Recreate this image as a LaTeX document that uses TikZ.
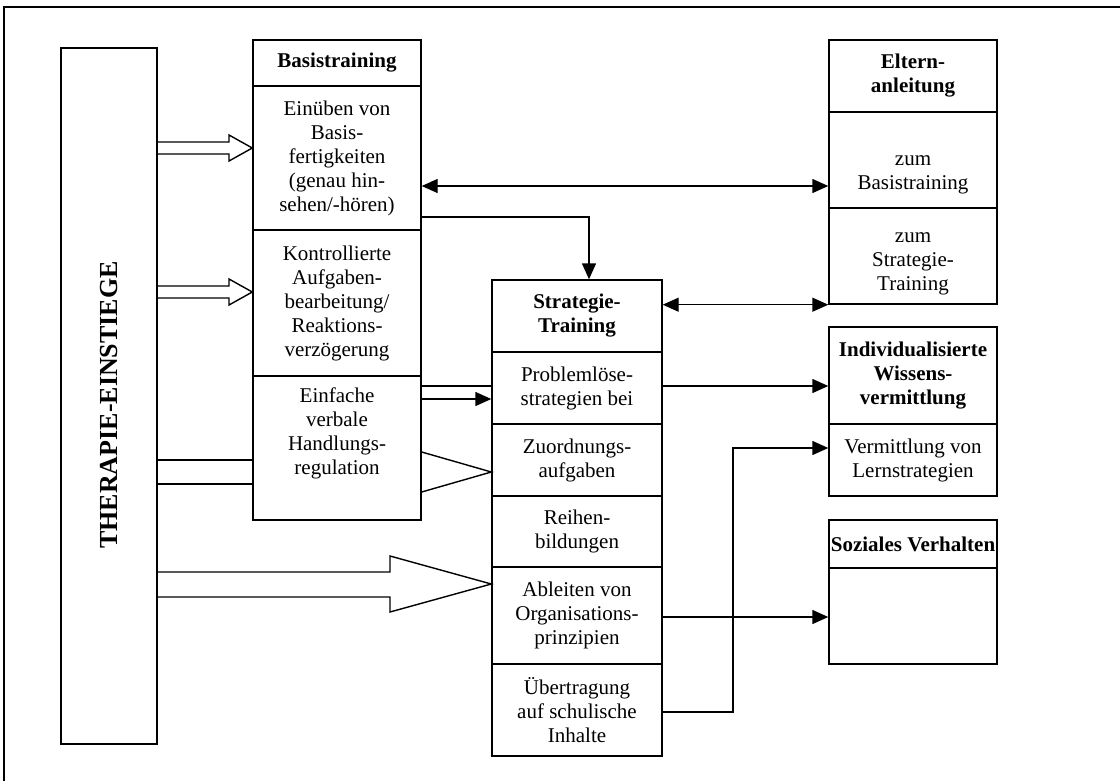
\documentclass[tikz,border=0pt]{standalone}
\usepackage{fontspec}
\setmainfont{Liberation Serif}
\usetikzlibrary{arrows.meta}
\begin{document}
\begin{tikzpicture}[x=1pt,y=-1pt,
  box/.style={draw, line width=1.4pt, inner sep=0pt, align=center,
    font=\fontsize{21}{24}\selectfont},
  head/.style={box, font=\fontsize{21}{24}\selectfont\bfseries},
  txt/.style={inner sep=0pt, align=center, font=\fontsize{21}{24}\selectfont},
  arr/.style={line width=1.4pt, -{Triangle[length=16pt,width=14pt]}},
  dblarr/.style={line width=1.4pt, {Triangle[length=16pt,width=14pt]}-{Triangle[length=16pt,width=14pt]}},
  hollow/.style={line width=1.4pt, line join=miter},
]
\useasboundingbox (0,0) rectangle (1120,780);

% outer frame (only its top and left edges lie on the page)
\draw[line width=2.6pt] (4,800) -- (4,7) -- (1140,7);

% left column: an upright box with the title turned on its side
\node[box, minimum width=96pt, minimum height=696pt] (T) at (109,396) {};
\node[txt, rotate=90, font=\fontsize{26}{30}\selectfont\bfseries] (Tt) at (109,405) {THERAPIE-EINSTIEGE};

% Basistraining
\node[head, minimum width=168pt, minimum height=46pt] (bh) at (337,63) {Basistraining};
\node[box, minimum width=168pt, minimum height=144pt] (b1) at (337,158)
  {Einüben von\\Basis-\\fertigkeiten\\(genau hin-\\sehen/-hören)};
\node[box, minimum width=168pt, minimum height=146pt] (b2) at (337,303)
  {Kontrollierte\\Aufgaben-\\bearbeitung/\\Reaktions-\\verzögerung};
\node[box, minimum width=168pt, minimum height=144pt] (b3) at (337,448) {};
\node[txt] (b3t) at ([yshift=15pt]b3.center) {Einfache\\verbale\\Handlungs-\\regulation};

% Strategie-Training
\node[head, minimum width=170pt, minimum height=72pt] (sh) at (577,316) {Strategie-\\Training};
\node[box, minimum width=170pt, minimum height=72pt] (s1) at (577,388) {Problemlöse-\\strategien bei};
\node[box, minimum width=170pt, minimum height=72pt] (s2) at (577,460) {Zuordnungs-\\aufgaben};
\node[box, minimum width=170pt, minimum height=71pt] (s3) at (577,531.5) {Reihen-\\bildungen};
\node[box, minimum width=170pt, minimum height=97pt] (s4) at (577,615.5) {Ableiten von\\Organisations-\\prinzipien};
\node[box, minimum width=170pt, minimum height=92pt] (s5) at (577,710) {Übertragung\\auf schulische\\Inhalte};

% Elternanleitung
\node[head, minimum width=168pt, minimum height=72pt] (eh) at (913,76) {Eltern-\\anleitung};
\node[box, minimum width=168pt, minimum height=96pt] (e1) at (913,160) {};
\node[txt] (e1t) at ([yshift=-15pt]e1.center) {zum\\Basistraining};
\node[box, minimum width=168pt, minimum height=96pt] (e2) at (913,256) {};
\node[txt] (e2t) at ([yshift=-8pt]e2.center) {zum\\Strategie-\\Training};

% Individualisierte Wissensvermittlung
\node[head, minimum width=168pt, minimum height=97pt] (wh) at (913,375.5) {Individualisierte\\Wissens-\\vermittlung};
\node[box, minimum width=168pt, minimum height=72pt] (w1) at (913,460) {Vermittlung von\\Lernstrategien};

% Soziales Verhalten
\node[head, minimum width=168pt, minimum height=48pt] (zh) at (913,544) {Soziales Verhalten};
\node[box, minimum width=168pt, minimum height=96pt] (zb) at (913,616) {};

% hollow arrows out of the left column
\draw[hollow] (T.east |- 0,142) -- (229,142) -- (229,135) -- (b1.west |- 0,148)
  -- (229,161) -- (229,154) -- (T.east |- 0,154);
\draw[hollow] (T.east |- 0,286) -- (229,286) -- (229,279) -- (b2.west |- 0,292)
  -- (229,305) -- (229,298) -- (T.east |- 0,298);
\draw[hollow] (T.east |- 0,460) -- (b3.west |- 0,460);
\draw[hollow] (T.east |- 0,484) -- (b3.west |- 0,484);
\draw[hollow] (b3.east |- 0,452) -- (s2.west |- 0,472) -- (b3.east |- 0,492);
\draw[hollow] (T.east |- 0,572) -- (390,572) -- (390,556) -- (s4.west |- 0,584)
  -- (390,612) -- (390,597) -- (T.east |- 0,597);

% connectors
\draw[dblarr] (b1.east |- 0,186) -- (e1.west |- 0,186);
\draw[arr] (b1.east |- 0,217) -| ([xshift=12pt]sh.north);
\draw[dblarr] (sh.east |- e2.south west) -- (e2.south west);
\draw[line width=1.4pt] (b3.east |- 0,386) -- (s1.west |- 0,386);
\draw[arr] (b3.east |- 0,399) -- (s1.west |- 0,399);
\draw[arr] (s1.east |- 0,386) -- (wh.west |- 0,386);
\draw[arr] (s4.east |- 0,617) -- (zb.west |- 0,617);
\draw[arr] (s5.east |- 0,712) -| (733,448) -- (w1.west |- 0,448);

\end{tikzpicture}
\end{document}
